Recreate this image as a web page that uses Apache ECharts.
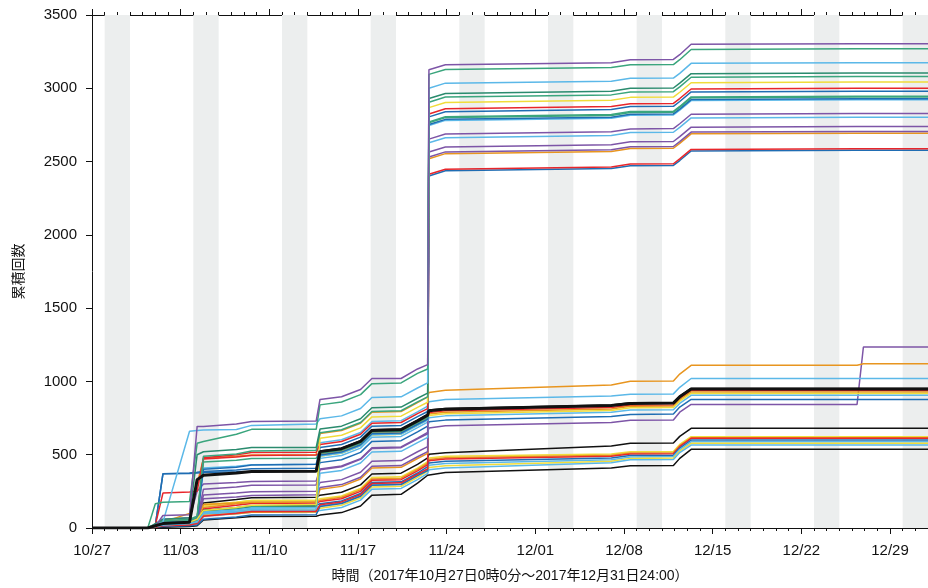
<!DOCTYPE html>
<html><head><meta charset="utf-8">
<script src="https://cdn.jsdelivr.net/npm/echarts@6/dist/echarts.min.js"></script>
<style>html,body{margin:0;padding:0;background:#fff}#c{width:928px;height:588px}</style>
</head><body><div id="c"></div>
<script>
// day offsets from 2017-10-27 00:00
const days = [0,4.4,5.0,5.6,7.7,8.3,8.8,11.4,12.6,17.7,18.0,19.7,21.2,22.1,24.4,25.7,26.5,26.6,27.9,41.0,42.5,45.9,46.4,47.3,60.4,60.9,66];
const weekendStarts = [1,8,15,22,29,36,43,50,57,64];
const yTicks = [0,500,1000,1500,2000,2500,3000,3500];

// top group
const t01 = [0,0,10,85,90,693,693,710,727,730,877,895,945,1020,1020,1085,1115,3127,3161,3175,3195,3197,3229,3300,3304,3304,3304];
const t02 = [0,0,165,175,180,578,590,640,673,673,840,860,910,985,990,1055,1085,3095,3128,3142,3160,3162,3195,3265,3270,3270,3270];
const t03 = [0,0,20,40,660,665,668,672,700,710,745,765,815,890,895,955,990,3000,3035,3048,3068,3070,3102,3170,3175,3175,3175];
const t04 = [0,0,30,60,70,500,520,535,550,550,675,695,745,820,825,885,920,2930,2965,2980,3000,3002,3035,3100,3105,3105,3105];
const t05 = [0,0,25,50,60,80,490,505,525,530,650,670,720,795,800,860,895,2905,2940,2955,2975,2977,3010,3075,3080,3080,3080];
const t06 = [0,0,10,30,40,60,120,140,155,160,613,633,683,758,763,823,858,2868,2903,2918,2938,2940,2973,3038,3043,3043,3043];
const t07 = [0,0,20,238,245,250,480,500,515,517,570,590,640,715,720,780,815,2825,2860,2875,2895,2897,2930,2995,3000,3000,3000];
const t08 = [0,0,15,35,45,60,400,415,430,435,550,570,620,695,700,760,795,2805,2840,2855,2875,2877,2910,2975,2980,2980,2980];
const t09 = [0,0,20,40,50,70,450,462,474,476,516,536,586,661,666,726,761,2771,2806,2821,2841,2843,2876,2941,2946,2946,2946];
const t10 = [0,0,15,30,40,55,120,135,148,150,510,530,580,655,660,720,755,2765,2800,2815,2835,2837,2870,2935,2940,2940,2940];
const t11 = [0,0,20,370,375,380,385,395,405,408,498,518,568,643,648,708,743,2753,2788,2803,2823,2825,2858,2923,2928,2928,2928];
const t12 = [0,0,10,25,35,45,110,125,138,140,491,511,561,636,641,701,736,2746,2781,2796,2816,2818,2851,2916,2921,2921,2921];
const t13 = [0,0,15,30,40,60,265,280,292,294,398,418,468,543,548,608,643,2653,2688,2703,2723,2725,2758,2823,2828,2828,2828];
const t14 = [0,0,10,20,30,40,100,115,128,130,373,393,443,518,523,583,618,2628,2663,2678,2698,2700,2733,2798,2803,2803,2803];
const t15 = [0,0,10,25,35,50,225,238,248,250,310,330,380,455,460,520,555,2565,2600,2615,2635,2637,2670,2735,2740,2740,2740];
const t16 = [0,0,10,20,30,45,200,212,222,226,276,296,346,421,426,486,521,2531,2566,2581,2601,2603,2636,2701,2706,2706,2706];
const t17 = [0,0,10,20,30,60,160,170,175,177,264,284,334,409,414,474,509,2519,2554,2569,2589,2591,2624,2689,2694,2694,2694];
const t18 = [0,0,5,15,20,30,80,100,112,115,158,178,228,303,308,368,403,2413,2448,2463,2483,2485,2518,2583,2588,2588,2588];
const t19 = [0,0,5,10,15,20,60,75,88,91,147,167,217,292,297,357,392,2402,2437,2452,2472,2474,2507,2572,2577,2577,2577];
// middle group
const m01 = [0,0,10,60,70,250,300,310,318,320,403,423,473,548,553,613,653,683,698,720,735,737,790,843,843,1235,1235];
const m02 = [0,0,15,40,100,300,475,490,498,500,645,665,715,790,795,855,895,925,940,975,1001,1003,1050,1110,1110,1120,1120];
const m03 = [0,0,10,25,35,50,95,108,118,120,582,602,652,727,732,792,832,862,877,900,913,915,960,1020,1020,1020,1020];
const m04 = [0,0,15,30,40,330,360,375,385,387,521,541,591,666,671,731,770,800,811,835,850,852,895,948,948,948,948];
const m05 = [0,0,20,45,55,70,470,485,495,498,510,530,580,655,660,720,758,788,800,822,838,840,885,938,938,938,938];
const m06 = [0,0,10,20,30,45,85,98,108,110,500,520,570,645,650,710,748,778,790,812,830,832,875,928,928,928,928];
const m07 = [0,0,10,25,35,60,160,175,187,190,490,510,560,635,640,700,738,768,780,802,820,822,865,918,918,918,918];
const m08 = [0,0,20,40,50,70,410,422,432,435,475,495,545,620,625,685,722,752,765,790,805,807,850,905,905,905,905];
const m09 = [0,0,20,370,372,375,378,383,386,387,446,466,516,591,596,656,695,725,736,760,775,777,825,877,877,877,877];
const m10 = [0,0,10,20,30,40,120,135,147,150,525,545,595,670,675,735,775,805,815,840,855,857,900,952,952,952,952];
// bottom group
const b01 = [0,0,10,20,30,45,170,195,207,210,224,244,294,369,374,434,478,503,514,560,578,580,625,680,680,680,680];
const b02 = [0,0,5,15,25,40,150,175,187,190,199,219,269,344,349,409,452,477,489,505,520,522,570,623,623,623,623];
const b03 = [0,0,5,15,25,35,140,165,175,177,190,210,260,335,340,400,443,468,480,497,512,514,562,615,615,615,615];
const b04 = [0,0,5,15,20,30,130,155,167,170,180,200,250,325,330,390,433,458,470,490,505,507,555,612,612,612,612];
const b05 = [0,0,5,10,15,25,120,140,152,155,165,185,235,310,315,375,418,443,455,478,495,497,545,600,600,600,600];
const b06 = [0,0,5,10,15,25,105,125,137,140,150,170,220,295,300,360,403,428,440,465,485,487,535,589,589,589,589];
const b07 = [0,0,5,10,15,20,95,112,122,125,135,155,205,280,285,345,388,413,425,455,475,477,525,578,578,578,578];
const b08 = [0,0,5,10,15,20,80,97,107,110,120,140,190,265,270,330,373,398,410,445,465,467,515,566,566,566,566];
const b09 = [0,0,3,5,10,15,55,70,78,80,88,105,150,224,230,306,360,372,378,410,424,426,475,537,537,537,537];

const C = {purple:'#7d55a7', green:'#3aa57d', teal:'#2a8b6e', sky:'#5bb8e8', yellow:'#f0dc3a', red:'#e8262b', blue:'#1f6db3', orange:'#e8951f', black:'#111111'};
const lines = [
  [b01,C.black],[b02,C.yellow],[b03,C.orange],[b04,C.red],[b05,C.blue],[b06,C.sky],[b07,C.yellow],[b08,C.sky],[b09,C.black],
  [m01,C.purple],[m02,C.orange],[m03,C.sky],[m05,C.red],[m06,C.orange],[m07,C.yellow],[m08,C.sky],[m09,C.blue],[m10,C.black],
  [t19,C.blue],[t18,C.red],[t17,C.orange],[t16,C.purple],[t15,C.purple],[t14,C.sky],[t13,C.purple],[t12,C.sky],[t11,C.blue],
  [t10,C.green],[t09,C.green],[t08,C.blue],[t07,C.red],[t06,C.yellow],[t05,C.green],[t04,C.teal],[t03,C.sky],[t02,C.green],[t01,C.purple],
  [m04,C.black,3]
];

const FONT = '"Liberation Sans", Arial, "Noto Sans CJK JP", sans-serif';
function dayLabel(v){
  if (Math.abs(v % 7) > 1e-6) return '';
  const d = new Date(Date.UTC(2017,9,27) + v*86400000);
  const mm = String(d.getUTCMonth()+1).padStart(2,'0');
  const dd = String(d.getUTCDate()).padStart(2,'0');
  return mm + '/' + dd;
}
const baseX = {type:'value', min:0, max:66, splitLine:{show:false}, axisLine:{show:true, onZero:false, lineStyle:{color:'#111', width:1}}};
const xAxes = [
  Object.assign({}, baseX, {position:'bottom', interval:7,
    axisTick:{show:true, length:6, inside:false, lineStyle:{color:'#111'}},
    axisLabel:{show:true, formatter:dayLabel, fontSize:15, color:'#111', margin:15, fontFamily:FONT, showMaxLabel:false},
    name:'時間（2017年10月27日0時0分～2017年12月31日24:00）', nameLocation:'middle', nameGap:41,
    nameTextStyle:{fontSize:14, color:'#111', fontFamily:FONT}}),
  Object.assign({}, baseX, {position:'bottom', interval:1, axisTick:{show:true, length:3, lineStyle:{color:'#111'}}, axisLabel:{show:false}}),
  Object.assign({}, baseX, {position:'top', interval:7, axisTick:{show:true, length:6, lineStyle:{color:'#111'}}, axisLabel:{show:false}}),
  Object.assign({}, baseX, {position:'top', interval:1, axisTick:{show:true, length:3, lineStyle:{color:'#111'}}, axisLabel:{show:false}})
];

const series = [{
  type:'line', data:[], xAxisIndex:0, yAxisIndex:0, silent:true,
  markArea:{silent:true, itemStyle:{color:'#eceeee'}, data: weekendStarts.map(s => [{xAxis:s},{xAxis:Math.min(s+2,66)}])}
}];
lines.forEach(([vals,color,w]) => {
  series.push({type:'line', xAxisIndex:0, yAxisIndex:0, showSymbol:false, symbol:'none',
    lineStyle:{color:color, width:w||1.5}, itemStyle:{color:color},
    data: days.map((d,i)=>[d, vals[i]])});
});

const chart = echarts.init(document.getElementById('c'), null, {renderer:'canvas'});
chart.setOption({
  animation:false,
  backgroundColor:'#ffffff',
  grid:{left:92, right:0, top:15, bottom:58, containLabel:false},
  xAxis: xAxes,
  yAxis: {type:'value', min:yTicks[0], max:yTicks[yTicks.length-1], interval:500,
    splitLine:{show:false},
    axisLine:{show:true, lineStyle:{color:'#111', width:1}},
    axisTick:{show:true, length:6, lineStyle:{color:'#111'}},
    axisLabel:{fontSize:15, color:'#111', margin:15, fontFamily:FONT, formatter: v => String(v)},
    name:'累積回数', nameLocation:'middle', nameGap:66, nameRotate:90,
    nameTextStyle:{fontSize:14, color:'#111', fontFamily:FONT}},
  series: series
});
</script></body></html>
